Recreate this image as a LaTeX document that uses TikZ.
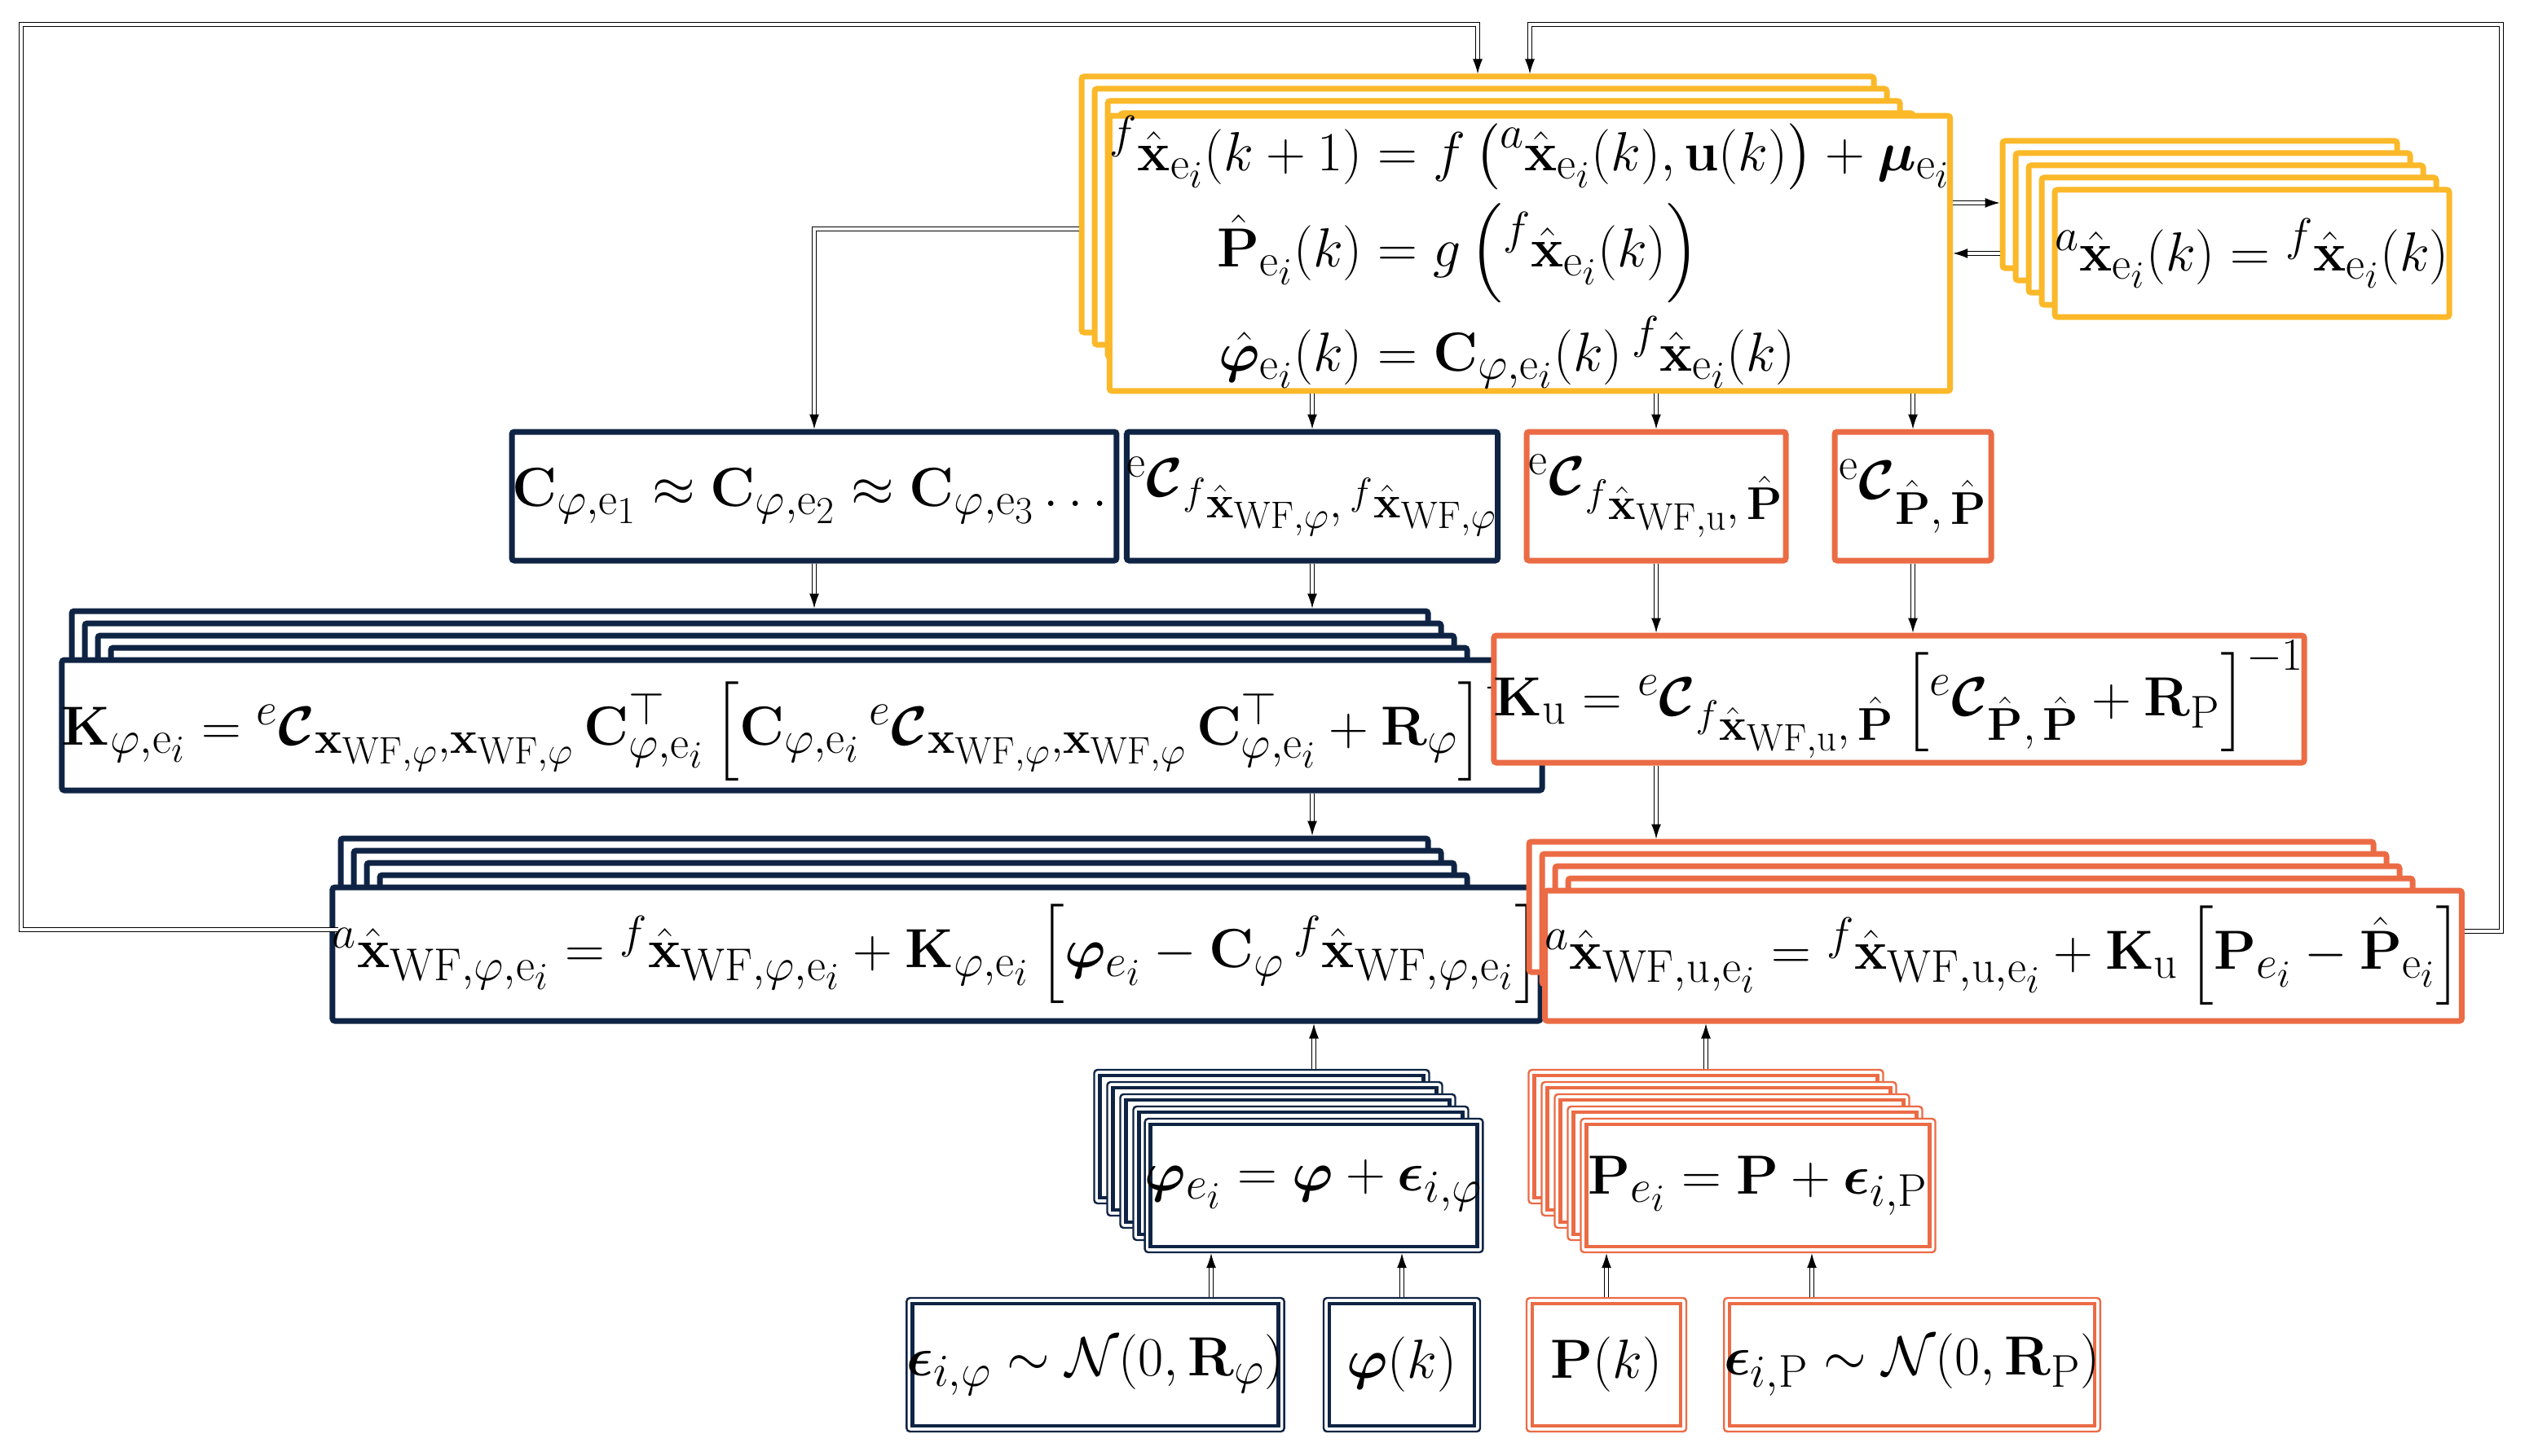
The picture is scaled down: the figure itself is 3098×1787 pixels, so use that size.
\documentclass[tikz,border=0pt]{standalone}
\usepackage{amsmath,amssymb,bm}
\usetikzlibrary{arrows.meta,calc}
\definecolor{yel}{HTML}{FBB829}
\definecolor{nav}{HTML}{0F2444}
\definecolor{ora}{HTML}{EB6B45}
\newcommand\T[1]{\scalebox{1.36}{#1}}
\tikzset{
  bx/.style={draw=#1, line width=3.5pt, fill=white, inner sep=0pt, rounded corners=1.5pt},
  dbl/.style={draw=#1, line width=1.2pt, fill=white, inner sep=0pt, rounded corners=2pt,
    path picture={\draw[#1, line width=2.2pt, sharp corners] ([shift={(3.5pt,3.5pt)}]path picture bounding box.south west) rectangle ([shift={(-3.5pt,-3.5pt)}]path picture bounding box.north east);}},
  con/.style={double, double distance=1.6pt, line width=0.6pt, -{Latex[length=9pt,width=6pt]}},
  every node/.style={font=\fontsize{24.88}{30}\selectfont}
}
\newcommand\mystack[7]{%
  \foreach \i in {4,3,2,1}{\node[#2, minimum width=#5*0.5pt, minimum height=#6*0.5pt] (#1\i) at ({#3-16*\i},{#4-15*\i}) {};}
  \node[#2, minimum width=#5*0.5pt, minimum height=#6*0.5pt] (#1) at (#3,#4) {\T{#7}};}
\begin{document}
\begin{tikzpicture}[x=0.5pt,y=-0.5pt]
\useasboundingbox (0,0) rectangle (3098,1787);
% top yellow
\mystack{y}{bx=yel}{1877}{311}{972}{314}{$\begin{aligned}
{}^{f}\hat{\mathbf{x}}_{\mathrm{e}_i}(k+1) &= f\left({}^{a}\hat{\mathbf{x}}_{\mathrm{e}_i}(k), \mathbf{u}(k)\right) + \boldsymbol{\mu}_{\mathrm{e}_i}\\[2pt]
\hat{\mathbf{P}}_{\mathrm{e}_i}(k) &= g\left({}^{f}\hat{\mathbf{x}}_{\mathrm{e}_i}(k)\right)\\[2pt]
\hat{\boldsymbol{\varphi}}_{\mathrm{e}_i}(k) &= \mathbf{C}_{\varphi,\mathrm{e}_i}(k)\,{}^{f}\hat{\mathbf{x}}_{\mathrm{e}_i}(k)
\end{aligned}$}
\mystack{ya}{bx=yel}{2763}{311}{484}{156}{${}^{a}\hat{\mathbf{x}}_{\mathrm{e}_i}(k) = {}^{f}\hat{\mathbf{x}}_{\mathrm{e}_i}(k)$}
% row 2
\node[bx=nav, minimum width=347pt, minimum height=79pt] (cp) at (999,609) {\T{$\mathbf{C}_{\varphi,\mathrm{e}_1} \approx \mathbf{C}_{\varphi,\mathrm{e}_2} \approx \mathbf{C}_{\varphi,\mathrm{e}_3}\dots$}};
\node[bx=nav, minimum width=205pt, minimum height=79pt] (ecf) at (1610,609) {\T{${}^{\mathrm{e}}\boldsymbol{\mathcal{C}}_{{}^{f}\hat{\mathbf{x}}_{\mathrm{WF},\varphi},\,{}^{f}\hat{\mathbf{x}}_{\mathrm{WF},\varphi}}$}};
\node[bx=ora, minimum width=159pt, minimum height=79pt] (ecu) at (2032,609) {\T{${}^{\mathrm{e}}\boldsymbol{\mathcal{C}}_{{}^{f}\hat{\mathbf{x}}_{\mathrm{WF,u}},\,\hat{\mathbf{P}}}$}};
\node[bx=ora, minimum width=96pt, minimum height=79pt] (ecp) at (2347,609) {\T{${}^{\mathrm{e}}\boldsymbol{\mathcal{C}}_{\hat{\mathbf{P}},\,\hat{\mathbf{P}}}$}};
% row 3
\mystack{kp}{bx=nav}{984}{890}{1664}{160}{$\mathbf{K}_{\varphi,\mathrm{e}_i} = {}^{e}\boldsymbol{\mathcal{C}}_{\mathbf{x}_{\mathrm{WF},\varphi},\mathbf{x}_{\mathrm{WF},\varphi}}\,\mathbf{C}^{\top}_{\varphi,\mathrm{e}_i}\left[\mathbf{C}_{\varphi,\mathrm{e}_i}\,{}^{e}\boldsymbol{\mathcal{C}}_{\mathbf{x}_{\mathrm{WF},\varphi},\mathbf{x}_{\mathrm{WF},\varphi}}\,\mathbf{C}^{\top}_{\varphi,\mathrm{e}_i} + \mathbf{R}_{\varphi}\right]^{-1}$}
\node[bx=ora, minimum width=456pt, minimum height=78pt] (ku) at (2330,858) {\T{$\mathbf{K}_{\mathrm{u}} = {}^{e}\boldsymbol{\mathcal{C}}_{{}^{f}\hat{\mathbf{x}}_{\mathrm{WF,u}},\,\hat{\mathbf{P}}}\left[{}^{e}\boldsymbol{\mathcal{C}}_{\hat{\mathbf{P}},\,\hat{\mathbf{P}}} + \mathbf{R}_{\mathrm{P}}\right]^{-1}$}};
% row 4
\mystack{xp}{bx=nav}{1149}{1171}{1334}{164}{${}^{a}\hat{\mathbf{x}}_{\mathrm{WF},\varphi,\mathrm{e}_i} = {}^{f}\hat{\mathbf{x}}_{\mathrm{WF},\varphi,\mathrm{e}_i} + \mathbf{K}_{\varphi,\mathrm{e}_i}\left[\boldsymbol{\varphi}_{e_i} - \mathbf{C}_{\varphi}\,{}^{f}\hat{\mathbf{x}}_{\mathrm{WF},\varphi,\mathrm{e}_i}\right]$}
\mystack{xu}{bx=ora}{2458}{1173}{1036}{160}{${}^{a}\hat{\mathbf{x}}_{\mathrm{WF,u,e}_i} = {}^{f}\hat{\mathbf{x}}_{\mathrm{WF,u,e}_i} + \mathbf{K}_{\mathrm{u}}\left[\mathbf{P}_{e_i} - \hat{\mathbf{P}}_{\mathrm{e}_i}\right]$}
% row 5
\mystack{pe}{dbl=nav}{1612}{1455}{411}{164}{$\boldsymbol{\varphi}_{e_i} = \boldsymbol{\varphi} + \boldsymbol{\epsilon}_{i,\varphi}$}
\mystack{pp}{dbl=ora}{2157}{1455}{435}{164}{$\mathbf{P}_{e_i} = \mathbf{P} + \boldsymbol{\epsilon}_{i,\mathrm{P}}$}
% row 6
\node[dbl=nav, minimum width=224pt, minimum height=82pt] (ep) at (1344,1675) {\T{$\boldsymbol{\epsilon}_{i,\varphi} \sim \mathcal{N}(0,\mathbf{R}_{\varphi})$}};
\node[dbl=nav, minimum width=96pt, minimum height=82pt] (phk) at (1720,1675) {\T{$\boldsymbol{\varphi}(k)$}};
\node[dbl=ora, minimum width=98pt, minimum height=82pt] (pk) at (1971,1675) {\T{$\mathbf{P}(k)$}};
\node[dbl=ora, minimum width=222pt, minimum height=82pt] (eP) at (2346,1675) {\T{$\boldsymbol{\epsilon}_{i,\mathrm{P}} \sim \mathcal{N}(0,\mathbf{R}_{\mathrm{P}})$}};
% connectors
\coordinate (fl) at (26,30);
\coordinate (fr) at (3069,30);
\draw[con] ([yshift=-15pt]xp4.west) -| (fl) -| (y4.north);
\draw[con] ([yshift=15pt]xu.east) -| (fr) -| (y4.north -| y.north);
\draw[con] ([yshift=31pt]y.east) -- ([yshift=31pt]y.east -| ya4.west);
\draw[con] (ya4.west |- y.east) -- (y.east);
\draw[con] ([yshift=-15pt]y4.west) -| (cp.north);
\draw[con] (y.south -| ecf.north) -- (ecf.north);
\draw[con] (y.south -| ecu.north) -- (ecu.north);
\draw[con] (y.south -| ecp.north) -- (ecp.north);
\draw[con] (cp.south) -- (cp.south |- kp4.north);
\draw[con] (ecf.south) -- (ecf.south |- kp4.north);
\draw[con] (kp.south -| ecf.south) -- (xp4.north -| ecf.south);
\draw[con] (ecu.south) -- (ecu.south |- ku.north);
\draw[con] (ecp.south) -- (ecp.south |- ku.north);
\draw[con] (ku.south -| ecu.south) -- (xu4.north -| ecu.south);
\draw[con] (pe4.north -| pe.north) -- (xp.south -| pe.north);
\draw[con] (pp4.north) -- (xu.south -| pp4.north);
\draw[con] ([xshift=71pt]ep.north) -- ([xshift=71pt]ep.north |- pe.south);
\draw[con] (phk.north) -- (phk.north |- pe.south);
\draw[con] (pk.north) -- (pk.north |- pp.south);
\draw[con] ([xshift=-61.5pt]eP.north) -- ([xshift=-61.5pt]eP.north |- pp.south);
\end{tikzpicture}
\end{document}
